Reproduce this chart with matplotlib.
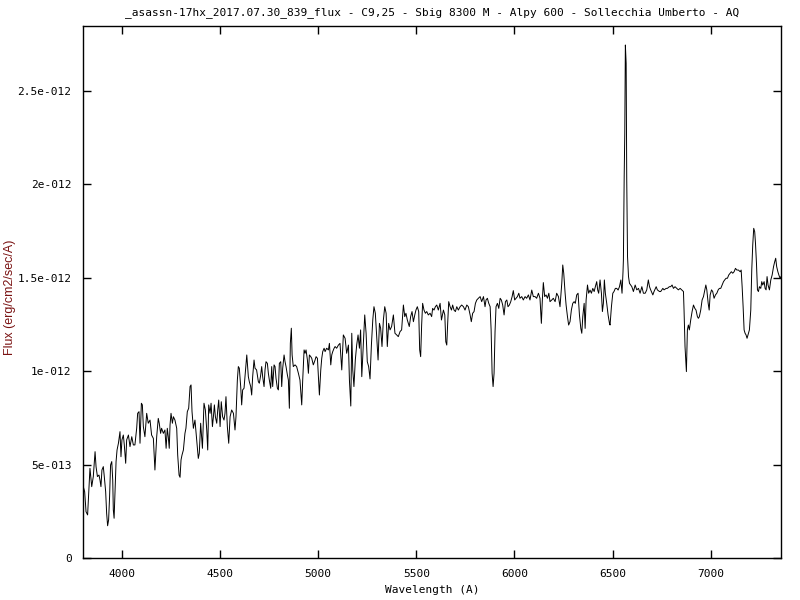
import matplotlib
matplotlib.use("Agg")
import matplotlib.pyplot as plt
from matplotlib.ticker import FixedLocator, FixedFormatter
import numpy as np

title = "_asassn-17hx_2017.07.30_839_flux - C9,25 - Sbig 8300 M - Alpy 600 - Sollecchia Umberto - AQ"
xlabel = "Wavelength (A)"
ylabel = "Flux (erg/cm2/sec/A)"

# wavelength (Angstrom) and flux (units of 1e-13 erg/cm2/sec/A)
wavelength = [
    3800, 3803, 3810, 3817, 3825, 3837, 3846, 3854, 3863, 3868, 3875, 3883, 3888, 3893, 3898, 3905,
    3910, 3917, 3922, 3927, 3932, 3937, 3942, 3948, 3953, 3956, 3960, 3965, 3970, 3975, 3982, 3990,
    3995, 4000, 4007, 4012, 4019, 4024, 4033, 4041, 4050, 4058, 4066, 4075, 4080, 4087, 4092, 4099,
    4104, 4109, 4117, 4126, 4134, 4143, 4151, 4160, 4168, 4177, 4185, 4190, 4197, 4202, 4211, 4219,
    4225, 4231, 4236, 4241, 4245, 4250, 4257, 4262, 4270, 4279, 4284, 4291, 4296, 4301, 4306, 4313,
    4321, 4326, 4333, 4340, 4347, 4352, 4357, 4364, 4372, 4381, 4389, 4394, 4401, 4410, 4418, 4425,
    4432, 4437, 4442, 4449, 4454, 4461, 4466, 4471, 4476, 4483, 4488, 4493, 4500, 4506, 4513, 4520,
    4525, 4530, 4537, 4544, 4551, 4559, 4568, 4576, 4581, 4588,
    4593, 4598, 4605, 4610, 4615, 4622, 4627, 4636, 4644, 4649, 4656, 4661, 4666, 4673, 4678, 4686,
    4695, 4700, 4707, 4712, 4717, 4724, 4729, 4734, 4741, 4746, 4751, 4758, 4763, 4768, 4775, 4780,
    4785, 4792, 4797, 4802, 4809, 4814, 4819, 4826, 4831, 4836, 4843, 4848, 4853, 4858, 4863, 4867,
    4873, 4882, 4890, 4899, 4907, 4916, 4921, 4928, 4933, 4938, 4945, 4950, 4955, 4962, 4967, 4975,
    4984, 4989, 4996, 5001, 5006, 5013, 5018, 5023, 5030, 5035, 5043, 5052, 5057, 5064, 5069, 5074,
    5081, 5086, 5094, 5103, 5111, 5120, 5128, 5137, 5145, 5154, 5159, 5166, 5171, 5176, 5182, 5189,
    5196, 5203, 5210, 5216, 5222, 5230, 5237, 5244, 5250, 5257, 5264, 5271, 5278, 5284, 5291, 5298,
    5305, 5312, 5318, 5325, 5332, 5339, 5346, 5352, 5359, 5366, 5374, 5383, 5391, 5400, 5408, 5417,
    5425, 5434, 5441, 5447, 5454, 5464,
    5471, 5478, 5485, 5492, 5498, 5505, 5512, 5517, 5522, 5527, 5532, 5539, 5546, 5553, 5561, 5570,
    5578, 5583, 5590, 5597, 5604, 5612, 5621, 5628, 5633, 5638, 5645, 5650, 5655, 5660, 5665, 5672,
    5679, 5685, 5692, 5699, 5706, 5714, 5723, 5731, 5740, 5748, 5757, 5765, 5774, 5780, 5787, 5794,
    5801, 5808, 5816, 5825, 5833, 5842, 5850, 5855, 5862, 5869, 5876, 5881, 5886, 5891, 5896, 5901,
    5906, 5913, 5920, 5927, 5933, 5940, 5947, 5954, 5961, 5967, 5974, 5981, 5988, 5994, 6001, 6008,
    6015, 6022, 6028, 6037, 6045, 6054, 6062, 6071, 6079, 6088, 6096, 6105, 6113, 6122, 6130, 6137,
    6142, 6147, 6154, 6161, 6168, 6175, 6181, 6190, 6198, 6207, 6215, 6224,
    6232, 6241, 6246, 6251, 6258, 6263, 6270, 6276, 6283, 6290, 6297, 6304, 6310, 6317, 6324, 6331,
    6338, 6343, 6348, 6355, 6360, 6365, 6372, 6378, 6385, 6392, 6399, 6406, 6412, 6419, 6424, 6429,
    6436, 6443, 6448, 6453, 6458, 6463, 6470, 6477, 6484, 6487, 6494, 6501, 6507, 6514, 6521, 6528,
    6535, 6542, 6548, 6553,
    6555, 6559, 6562, 6565, 6569, 6572, 6576, 6581, 6586, 6598, 6606, 6615, 6623, 6632, 6640, 6649,
    6657, 6666, 6674, 6682, 6688, 6694, 6705, 6711, 6722, 6728, 6739, 6745, 6756, 6762, 6773, 6779,
    6789, 6796, 6803, 6810, 6818, 6827, 6835, 6844, 6852, 6861, 6864, 6869, 6873, 6876, 6881, 6886,
    6891, 6898, 6905, 6912, 6919, 6925, 6932, 6937, 6942, 6949, 6956, 6963, 6970, 6975, 6980, 6987,
    6992, 6997, 7004, 7010, 7017, 7024, 7031, 7038, 7044, 7051, 7058, 7065, 7071, 7078, 7085, 7092,
    7099, 7105, 7112, 7119, 7126, 7133, 7141, 7150, 7155, 7160, 7165, 7170, 7175, 7180, 7185, 7190,
    7197, 7204, 7209, 7214, 7219, 7224, 7228, 7233, 7238, 7243, 7248, 7255, 7260, 7265, 7272, 7277,
    7282, 7287, 7292, 7299, 7306, 7313, 7320, 7326, 7331, 7336, 7342, 7347, 7353, 7358,
]

flux_e13 = [
    4.99, 3.83, 3.56, 2.49, 2.32, 4.81, 3.83, 4.37, 5.70, 4.90, 4.37, 4.45, 4.19, 3.83, 4.72, 4.90,
    4.37, 3.56, 2.40, 1.74, 2.05, 3.30, 4.99, 5.17, 4.19, 2.58, 2.14, 3.65, 5.17, 5.79, 6.15, 6.77,
    5.43, 6.33, 6.59, 6.06, 5.08, 6.33, 6.59, 5.97, 6.50, 6.06, 6.06, 6.95, 7.75, 7.84, 6.15, 8.29,
    8.20, 7.04, 6.50, 7.75, 7.22, 7.39, 6.59, 6.41, 4.72, 6.50, 7.48, 7.22, 6.68, 6.95, 6.68, 6.86,
    5.88, 6.95, 6.50, 5.88, 7.13, 7.75, 7.22, 7.57, 7.39, 6.95, 5.52, 4.45, 4.33, 5.26, 5.52, 5.79,
    6.68, 6.95, 7.84, 8.02, 9.18, 9.27, 7.84, 6.95, 7.39, 6.33, 5.34, 5.61, 7.22, 5.88, 8.29, 7.93,
    6.86, 5.79, 8.20, 7.75, 8.29, 7.04, 7.57, 8.20, 7.57, 7.22, 7.93, 8.46, 7.04, 8.37, 7.57, 7.39,
    7.75, 8.64, 7.04, 6.15, 7.57, 7.93, 7.75, 6.86, 7.57, 9.53,
    10.25, 10.16, 9.18, 8.20, 9.00, 9.09, 9.71, 10.87, 9.71, 9.44, 9.18, 8.73, 9.71, 10.60, 10.16, 10.07,
    9.44, 9.36, 9.80, 10.25, 9.71, 9.18, 10.07, 10.51, 10.42, 9.89, 9.53, 9.09, 10.25, 9.18, 10.34, 10.25,
    9.62, 9.09, 9.00, 10.42, 10.51, 9.18, 10.16, 10.87, 10.51, 10.25, 9.80, 9.53, 8.02, 11.49, 12.30, 10.87,
    10.25, 10.34, 10.25, 9.89, 9.53, 8.20, 9.53, 11.14, 10.96, 11.14, 10.60, 9.89, 10.87, 10.78, 10.69, 10.34,
    10.60, 10.78, 10.69, 9.71, 8.73, 10.07, 10.69, 11.05, 11.23, 11.05, 11.23, 11.14, 11.49, 10.34, 10.87, 11.05,
    11.23, 11.32, 11.23, 11.40, 11.49, 10.07, 11.94, 11.76, 10.96, 11.40, 9.53, 8.14, 12.03, 10.07, 9.18, 10.60,
    11.40, 11.94, 11.23, 12.21, 9.71, 11.49, 13.01, 12.03, 10.51, 10.25, 9.59, 11.40, 12.74, 13.45, 13.10, 11.85,
    10.60, 12.56, 12.30, 11.32, 12.74, 13.45, 13.10, 11.32, 12.56, 12.21, 12.39, 13.01, 12.03, 11.94, 11.85, 12.12,
    12.21, 13.54, 12.92, 13.10, 12.74, 12.39,
    12.92, 13.19, 12.65, 13.01, 13.27, 13.45, 13.19, 11.14, 10.78, 12.47, 13.63, 13.27, 13.10, 13.19, 13.01, 13.10,
    12.92, 13.36, 13.27, 13.45, 13.54, 13.27, 13.63, 12.74, 13.01, 13.27, 13.01, 11.58, 11.40, 12.65, 13.72, 13.45,
    13.27, 13.54, 13.27, 13.19, 13.45, 13.27, 13.45, 13.54, 13.45, 13.27, 13.54, 13.45, 13.01, 12.65, 13.10, 13.19,
    13.63, 13.81, 13.90, 13.99, 13.72, 13.99, 13.45, 13.81, 13.90, 13.63, 13.45, 12.21, 9.89, 9.18, 9.89, 12.12,
    13.45, 13.63, 13.36, 13.90, 13.81, 13.54, 13.01, 13.72, 13.81, 13.45, 13.54, 13.72, 13.99, 14.31, 13.81, 13.90,
    13.99, 14.17, 13.90, 13.99, 13.81, 13.99, 13.90, 14.08, 13.81, 14.34, 13.99, 13.99, 13.90, 14.17, 13.90, 12.56,
    13.81, 14.74, 13.99, 14.08, 13.90, 14.17, 13.72, 13.81, 13.90, 13.72, 14.17, 13.99,
    13.45, 14.70, 15.68, 15.24, 14.17, 13.54, 12.92, 12.47, 12.65, 13.28, 13.63, 13.72, 13.63, 14.08, 14.17, 13.01,
    12.29, 12.03, 12.92, 13.63, 12.29, 13.81, 14.61, 14.17, 14.34, 14.17, 14.43, 14.26, 14.52, 14.79, 14.34, 14.17,
    14.88, 14.17, 13.19, 13.63, 14.88, 14.17, 13.63, 13.01, 12.56, 12.47, 13.45, 14.17, 14.26, 14.43, 14.43, 14.34,
    14.52, 14.88, 14.17, 15.32,
    15.95, 20.40, 22.72, 27.44, 26.46, 20.23, 16.13, 15.06, 14.70, 14.52, 14.26, 14.61, 14.35, 14.43, 14.17, 14.52,
    14.17, 14.17, 14.35, 14.88, 14.52, 14.35, 14.08, 14.26, 14.52, 14.35, 14.26, 14.26, 14.43, 14.35, 14.43, 14.43,
    14.52, 14.52, 14.61, 14.43, 14.52, 14.43, 14.35, 14.43, 14.35, 14.26, 13.27, 11.31, 10.60, 9.98, 12.21, 12.47,
    12.21, 12.74, 13.19, 13.54, 13.36, 13.27, 12.92, 12.83, 12.92, 13.27, 13.81, 13.99, 14.35, 14.61, 14.35, 13.63,
    13.27, 14.08, 14.35, 14.26, 13.90, 14.08, 14.17, 14.35, 14.43, 14.43, 14.61, 14.79, 14.88, 14.97, 14.97, 15.15,
    15.24, 15.32, 15.24, 15.32, 15.50, 15.41, 15.41, 15.32, 15.41, 14.52, 13.45, 12.21, 12.03, 11.94, 11.76, 11.94,
    12.21, 13.27, 15.41, 16.75, 17.64, 17.46, 16.84, 15.77, 14.35, 14.26, 14.52, 14.43, 14.79, 14.61, 14.79, 14.43,
    14.35, 15.06, 14.61, 14.35, 14.88, 15.15, 15.59, 15.86, 16.04, 15.59, 15.32, 15.15, 14.97, 15.06,
]

xticks = [4000, 4500, 5000, 5500, 6000, 6500, 7000]
xtick_labels = ["4000", "4500", "5000", "5500", "6000", "6500", "7000"]
yticks = [0, 5e-13, 1e-12, 1.5e-12, 2e-12, 2.5e-12]
ytick_labels = ["0", "5e-013", "1e-012", "1.5e-012", "2e-012", "2.5e-012"]

flux = np.array(flux_e13) * 1e-13

fig = plt.figure(figsize=(8, 6), dpi=100)
ax = fig.add_axes([82.7 / 800, 41.7 / 600, (781 - 82.7) / 800, (558.3 - 26.3) / 600])
ax.plot(wavelength, flux, color="black", lw=0.7, antialiased=True)
ax.set_xlim(3800, 7358)
ax.set_ylim(0, 2.844e-12)

mono = "DejaVu Sans Mono"
ax.xaxis.set_major_locator(FixedLocator(xticks))
ax.xaxis.set_major_formatter(FixedFormatter(xtick_labels))
ax.yaxis.set_major_locator(FixedLocator(yticks))
ax.yaxis.set_major_formatter(FixedFormatter(ytick_labels))
ax.tick_params(direction="in", length=6, width=1, top=True, right=True,
               labelsize=8, pad=8, colors="black")
for lab in ax.get_xticklabels() + ax.get_yticklabels():
    lab.set_family(mono)
for sp in ax.spines.values():
    sp.set_linewidth(1)
    sp.set_color("black")

fig.text(432 / 800, 1 - 13 / 600, title, ha="center", va="center", fontsize=8, family=mono)
fig.text(432 / 800, 1 - 590 / 600, xlabel, ha="center", va="center", fontsize=8, family=mono)
fig.text(10 / 800, 1 - 297 / 600, ylabel, ha="center", va="center", rotation=90,
         fontsize=9, family="Liberation Sans", color="#7a1212")

fig.savefig("out.png", dpi=100)
